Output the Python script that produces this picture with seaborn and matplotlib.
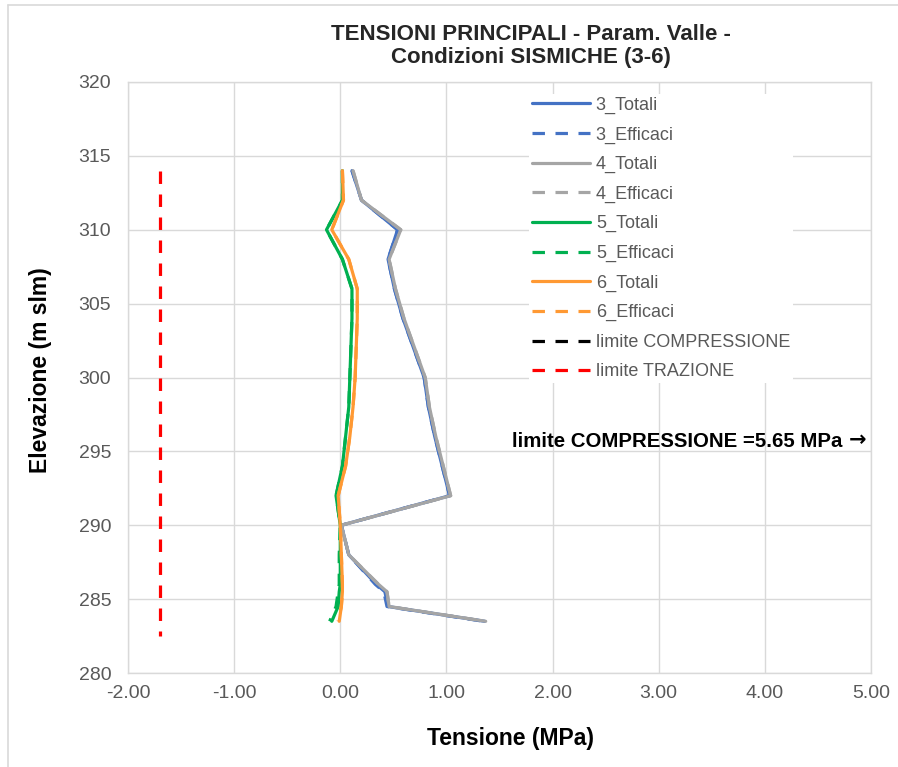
import matplotlib
matplotlib.use("Agg")
import matplotlib.pyplot as plt
from matplotlib.lines import Line2D
import seaborn as sns
import pandas as pd

# quote (m slm) dei punti di calcolo
quote = [314, 312, 310, 308, 306, 304, 302, 300, 298, 296, 294, 292, 290, 288, 286, 285.5, 284.5, 283.5]

# tensioni principali (MPa)
t3_totali   = [0.11, 0.20, 0.54, 0.45, 0.51, 0.59, 0.69, 0.79, 0.83, 0.89, 0.96, 1.03, 0.01, 0.08, 0.34, 0.42, 0.45, 1.36]
t3_efficaci = [0.11, 0.20, 0.54, 0.45, 0.51, 0.59, 0.69, 0.79, 0.83, 0.89, 0.96, 1.03, 0.01, 0.08, 0.33, 0.41, 0.44, 1.35]
t4_totali   = [0.12, 0.20, 0.57, 0.46, 0.52, 0.60, 0.70, 0.80, 0.84, 0.90, 0.97, 1.04, 0.01, 0.08, 0.36, 0.44, 0.46, 1.37]
t4_efficaci = [0.12, 0.20, 0.57, 0.46, 0.52, 0.60, 0.70, 0.80, 0.84, 0.90, 0.97, 1.04, 0.01, 0.08, 0.36, 0.44, 0.46, 1.37]
t5_totali   = [0.02, 0.02, -0.13, 0.02, 0.11, 0.11, 0.10, 0.09, 0.08, 0.05, 0.02, -0.04, 0.00, 0.00, 0.00, -0.01, -0.02, -0.08]
t5_efficaci = [0.02, 0.02, -0.13, 0.02, 0.11, 0.11, 0.10, 0.09, 0.08, 0.05, 0.02, -0.04, 0.00, -0.01, -0.01, -0.02, -0.04, -0.10]
t6_totali   = [0.02, 0.03, -0.08, 0.08, 0.16, 0.16, 0.15, 0.14, 0.12, 0.09, 0.05, -0.02, 0.00, 0.01, 0.02, 0.02, 0.01, -0.01]
t6_efficaci = [0.02, 0.03, -0.08, 0.08, 0.16, 0.16, 0.15, 0.14, 0.12, 0.09, 0.05, -0.02, 0.00, 0.01, 0.02, 0.02, 0.01, -0.02]

# limiti
quote_limite = [314, 282.5]
lim_compressione = 5.65
lim_trazione = -1.70

sns.set_theme(style="white")
plt.rcParams['font.family'] = ['Liberation Sans', 'DejaVu Sans']

fig = plt.figure(figsize=(8.98, 7.67), dpi=100)
ax = fig.add_axes([128/898, 1-673/767, 743/898, 591/767])

lw = 2.3
dash = (3.9, 3.3)
series = [
    ("3_Totali", t3_totali, "#4472C4", "-"),
    ("3_Efficaci", t3_efficaci, "#4472C4", "--"),
    ("4_Totali", t4_totali, "#A5A5A5", "-"),
    ("4_Efficaci", t4_efficaci, "#A5A5A5", "--"),
    ("5_Totali", t5_totali, "#00B050", "-"),
    ("5_Efficaci", t5_efficaci, "#00B050", "--"),
    ("6_Totali", t6_totali, "#FF9933", "-"),
    ("6_Efficaci", t6_efficaci, "#FF9933", "--"),
]
for name, vals, col, ls in series:
    df = pd.DataFrame({"x": vals, "y": quote})
    sns.lineplot(data=df, x="x", y="y", sort=False, estimator=None, color=col,
                 lw=lw, label=name, ax=ax)
    if ls == "--":
        ax.lines[-1].set_dashes(dash)

for name, val, col in [("limite COMPRESSIONE", lim_compressione, "black"),
                       ("limite TRAZIONE", lim_trazione, "#FF0000")]:
    df = pd.DataFrame({"x": [val]*len(quote_limite), "y": quote_limite})
    sns.lineplot(data=df, x="x", y="y", sort=False, estimator=None, color=col,
                 lw=lw, label=name, ax=ax)
    ax.lines[-1].set_dashes(dash)

ax.set_xlim(-2, 5)
ax.set_ylim(280, 320)
ax.set_xticks([-2, -1, 0, 1, 2, 3, 4, 5])
ax.set_xticklabels([f"{v:.2f}" for v in [-2, -1, 0, 1, 2, 3, 4, 5]])
ax.set_yticks(range(280, 321, 5))
ax.grid(True, color="#D9D9D9", lw=1)
ax.set_axisbelow(True)
for s in ax.spines.values():
    s.set_color("#D9D9D9")
    s.set_linewidth(1)
ax.tick_params(axis="both", length=0, labelsize=14, colors="#595959")
ax.tick_params(axis="y", pad=12)
ax.tick_params(axis="x", pad=9)

ax.set_xlabel("Tensione (MPa)", fontsize=16.5, fontweight="bold", color="black")
ax.set_ylabel("Elevazione (m slm)", fontsize=16.5, fontweight="bold", color="black")
ax.xaxis.set_label_coords(0.515, -0.092)
ax.yaxis.set_label_coords(-0.102, 0.513)

fig.text(531/898, 1-46/767, "TENSIONI PRINCIPALI - Param. Valle -\nCondizioni SISMICHE (3-6)",
         ha="center", va="center", fontsize=16, fontweight="bold", linespacing=1.12)

ax.text(4.73, 295.7, "limite COMPRESSIONE =5.65 MPa", ha="right", va="center",
        fontsize=14.7, fontweight="bold", color="black")
ax.text(4.79, 295.75, "\u2192", ha="left", va="center", fontsize=15,
        fontweight="bold", color="black", family="DejaVu Sans")

leg = ax.legend(loc="upper left", bbox_to_anchor=(0.5276, 0.995), frameon=True,
                facecolor="white", edgecolor="none", framealpha=1, fontsize=13,
                handlelength=3.2, handletextpad=0.35, labelspacing=0.69,
                borderpad=0.15)
for t in leg.get_texts():
    t.set_color("#595959")

# bordo area grafico
fig.add_artist(Line2D([8/898, 8/898], [0, 1-5/767], color="#D9D9D9", lw=1.2, transform=fig.transFigure))
fig.add_artist(Line2D([8/898, 1], [1-5/767, 1-5/767], color="#D9D9D9", lw=1.2, transform=fig.transFigure))

fig.savefig("out.png", dpi=100, facecolor="white")
